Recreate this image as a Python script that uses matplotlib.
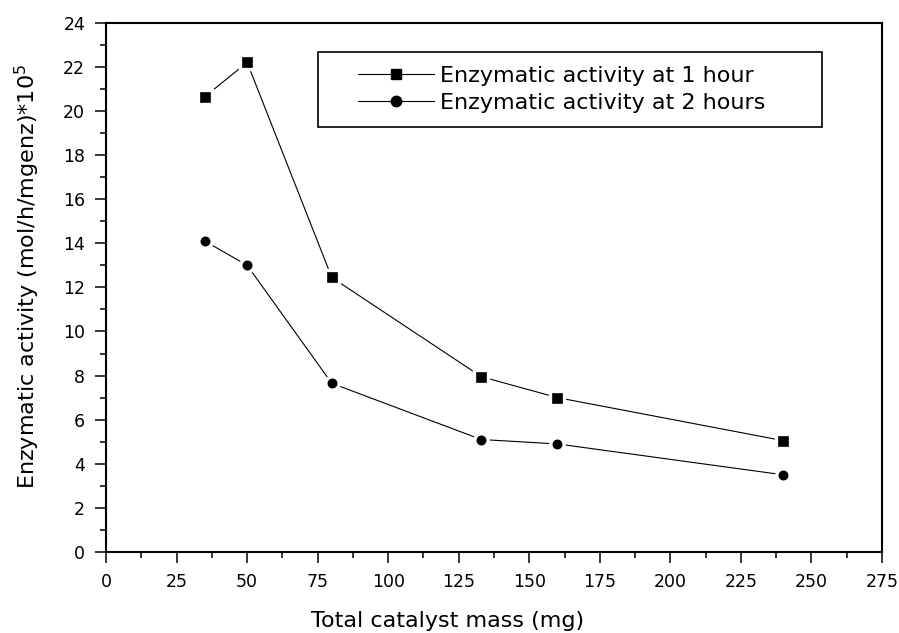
import matplotlib
matplotlib.use('Agg')
import matplotlib.pyplot as plt
from matplotlib.lines import Line2D
from matplotlib.patches import Rectangle
from matplotlib.ticker import MultipleLocator

# data
mass_mg = [35, 50, 80, 133, 160, 240]
activity_1h = [20.65, 22.2, 12.45, 7.95, 7.0, 5.05]
activity_2h = [14.1, 13.0, 7.65, 5.1, 4.9, 3.5]
labels = ['Enzymatic activity at 1 hour', 'Enzymatic activity at 2 hours']

plt.rcParams['font.family'] = ['DejaVu Sans']
plt.rcParams['mathtext.fontset'] = 'dejavusans'

fig = plt.figure(figsize=(8.99, 6.33), dpi=100)
ax = fig.add_axes([0.118, 0.128, 0.863, 0.836])

ax.plot(mass_mg, activity_1h, '-', color='black', lw=0.8, marker='s', ms=9.6,
        mfc='black', mec='white', mew=2.4)
ax.plot(mass_mg, activity_2h, '-', color='black', lw=0.8, marker='o', ms=9.6,
        mfc='black', mec='white', mew=2.4)

ax.set_xlim(0, 275); ax.set_ylim(0, 24)
ax.xaxis.set_major_locator(MultipleLocator(25)); ax.xaxis.set_minor_locator(MultipleLocator(12.5))
ax.yaxis.set_major_locator(MultipleLocator(2)); ax.yaxis.set_minor_locator(MultipleLocator(1))
ax.tick_params(which='both', direction='out', width=1.1, top=False, right=False, labelsize=12.5, pad=7)
ax.tick_params(which='major', length=8)
ax.tick_params(which='minor', length=4.5)
for s in ax.spines.values():
    s.set_linewidth(1.5)

ax.set_xlabel('Total catalyst mass (mg)', fontsize=16)
ax.xaxis.set_label_coords(0.44, -0.112)
ax.set_ylabel(r'Enzymatic activity (mol/h/mgenz)*10$^5$', fontsize=16)
ax.yaxis.set_label_coords(-0.083, 0.52)

# legend box drawn on its own so the padding can match the reference
ax.add_patch(Rectangle((0.273, 0.803), 0.65, 0.142, transform=ax.transAxes, fill=False,
                       edgecolor='black', lw=1.2, zorder=5))
handles = [Line2D([], [], color='black', lw=0.8, marker='s', ms=7.5),
           Line2D([], [], color='black', lw=0.8, marker='o', ms=7.5)]
ax.legend(handles, labels, loc='center left', bbox_to_anchor=(0.325, 0.874),
          borderaxespad=0, borderpad=0, fontsize=16, handlelength=3.4, handletextpad=0.3,
          labelspacing=0.3, frameon=False)

fig.savefig('out.png', dpi=100)
